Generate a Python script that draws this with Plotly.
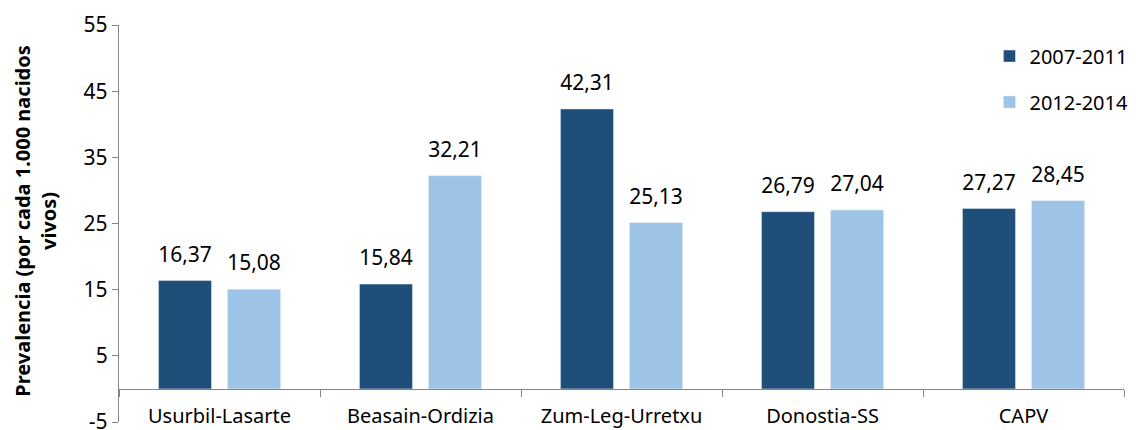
import plotly.graph_objects as go

categories = ["Usurbil-Lasarte", "Beasain-Ordizia", "Zum-Leg-Urretxu", "Donostia-SS", "CAPV"]
series_names = ["2007-2011", "2012-2014"]
values_2007_2011 = [16.37, 15.84, 42.31, 26.79, 27.27]
values_2012_2014 = [15.08, 32.21, 25.13, 27.04, 28.45]
y_ticks = [-5, 5, 15, 25, 35, 45, 55]

colors = ["#1F4E79", "#9DC3E6"]
FONT = "Noto Sans"
TXT = "#000000"
AX = "#868686"

fig = go.Figure()
for name, vals, col, grp in zip(series_names, [values_2007_2011, values_2012_2014], colors, ["a", "b"]):
    fig.add_trace(go.Bar(
        x=categories, y=vals, name=name, marker_color=col, offsetgroup=grp,
        legendgroup=grp,
    ))
for name, vals, grp in zip(series_names, [values_2007_2011, values_2012_2014], ["a", "b"]):
    fig.add_trace(go.Scatter(
        x=categories, y=vals, mode="markers+text", offsetgroup=grp,
        marker=dict(size=20, opacity=0), texttemplate="%{y:.2f}",
        textposition="top center", textfont=dict(size=21, color=TXT, family=FONT),
        showlegend=False, hoverinfo="skip", cliponaxis=False,
    ))

fig.update_layout(
    width=1136, height=430,
    margin=dict(l=119, r=12, t=25, b=8, autoexpand=False),
    paper_bgcolor="white", plot_bgcolor="white",
    barmode="group", bargap=0.313, bargroupgap=0.232,
    scattermode="group", scattergap=0.313,
    separators=",.",
    font=dict(family=FONT, size=20, color=TXT),
    legend=dict(xref="container", yref="container", x=0.871, y=0.915,
                xanchor="left", yanchor="top",
                font=dict(size=20, family=FONT, color=TXT),
                tracegroupgap=17, itemwidth=30, bgcolor="rgba(0,0,0,0)"),
    annotations=[dict(
        text="<b>Prevalencia (por cada 1.000 nacidos<br>vivos)</b>",
        xref="paper", yref="paper", x=-0.083, y=0.506, textangle=-90,
        showarrow=False, font=dict(size=20, family=FONT, color=TXT),
        xanchor="center", yanchor="middle",
    )],
)
fig.update_yaxes(
    range=[-5, 55], tickvals=y_ticks, ticktext=[str(v) for v in y_ticks],
    showgrid=False, zeroline=False,
    showline=True, linecolor=AX, linewidth=1.3, ticks="outside", ticklen=6,
    tickcolor=AX, tickfont=dict(size=21, family=FONT, color=TXT), automargin=False,
    ticklabeloverflow="allow",
)
fig.update_xaxes(
    anchor="free", position=5 / 60, showline=True, linecolor=AX, linewidth=1.3,
    ticks="outside", tickson="boundaries", ticklen=7, tickcolor=AX,
    ticklabelstandoff=9, showgrid=False, zeroline=False,
    tickfont=dict(size=20, family=FONT, color=TXT), automargin=False,
    ticklabeloverflow="allow",
)

fig.write_html("out.html", post_script="document.body.style.margin='0';",
               config={"displayModeBar": False})
